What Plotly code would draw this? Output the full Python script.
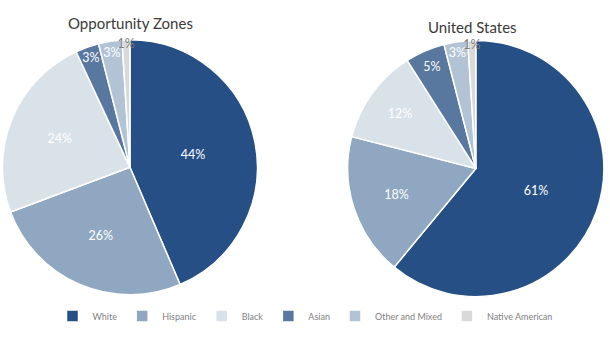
import plotly.graph_objects as go

categories = ["White", "Hispanic", "Black", "Asian", "Other and Mixed", "Native American"]
oz_values = [44, 26, 24, 3, 3, 1]
us_values = [61, 18, 12, 5, 3, 1]
colors = ["#264F86", "#8FA7C0", "#D9E1E9", "#5878A0", "#B2C3D6", "#D9D9D9"]
text_colors = ["white", "white", "white", "white", "white", "#7f7f7f"]

fig = go.Figure()
for vals, dom in [(oz_values, dict(x=[0.004, 0.422], y=[0.125, 0.882])),
                  (us_values, dict(x=[0.570, 0.990], y=[0.118, 0.882]))]:
    fig.add_trace(go.Pie(
        labels=categories, values=vals,
        text=[f"{v}%" for v in vals], textinfo="text",
        textposition="inside", insidetextorientation="horizontal",
        sort=False, direction="clockwise", rotation=0,
        marker=dict(colors=colors, line=dict(color="white", width=1.5)),
        textfont=dict(family="Lato", size=12.5, color=text_colors),
        domain=dom, hoverinfo="label+percent",
    ))

fig.add_annotation(text="Opportunity Zones", x=130/610, y=1-23/337, xref="paper", yref="paper",
                   xanchor="center", yanchor="middle",
                   showarrow=False, font=dict(family="Lato", size=15, color="#3a3a3a"))
fig.add_annotation(text="United States", x=472/610, y=1-27/337, xref="paper", yref="paper",
                   xanchor="center", yanchor="middle",
                   showarrow=False, font=dict(family="Lato", size=15, color="#3a3a3a"))

fig.update_layout(
    width=610, height=337, margin=dict(l=0, r=0, t=0, b=0),
    paper_bgcolor="white", plot_bgcolor="white",
    uniformtext=dict(minsize=12.5, mode="show"),
    legend=dict(orientation="h", x=0.5, xanchor="center", y=1-316/337, yanchor="middle",
                font=dict(family="Lato", size=9, color="#7f7f7f"), itemwidth=30,
                traceorder="normal"),
)
fig.write_html("out.html")
